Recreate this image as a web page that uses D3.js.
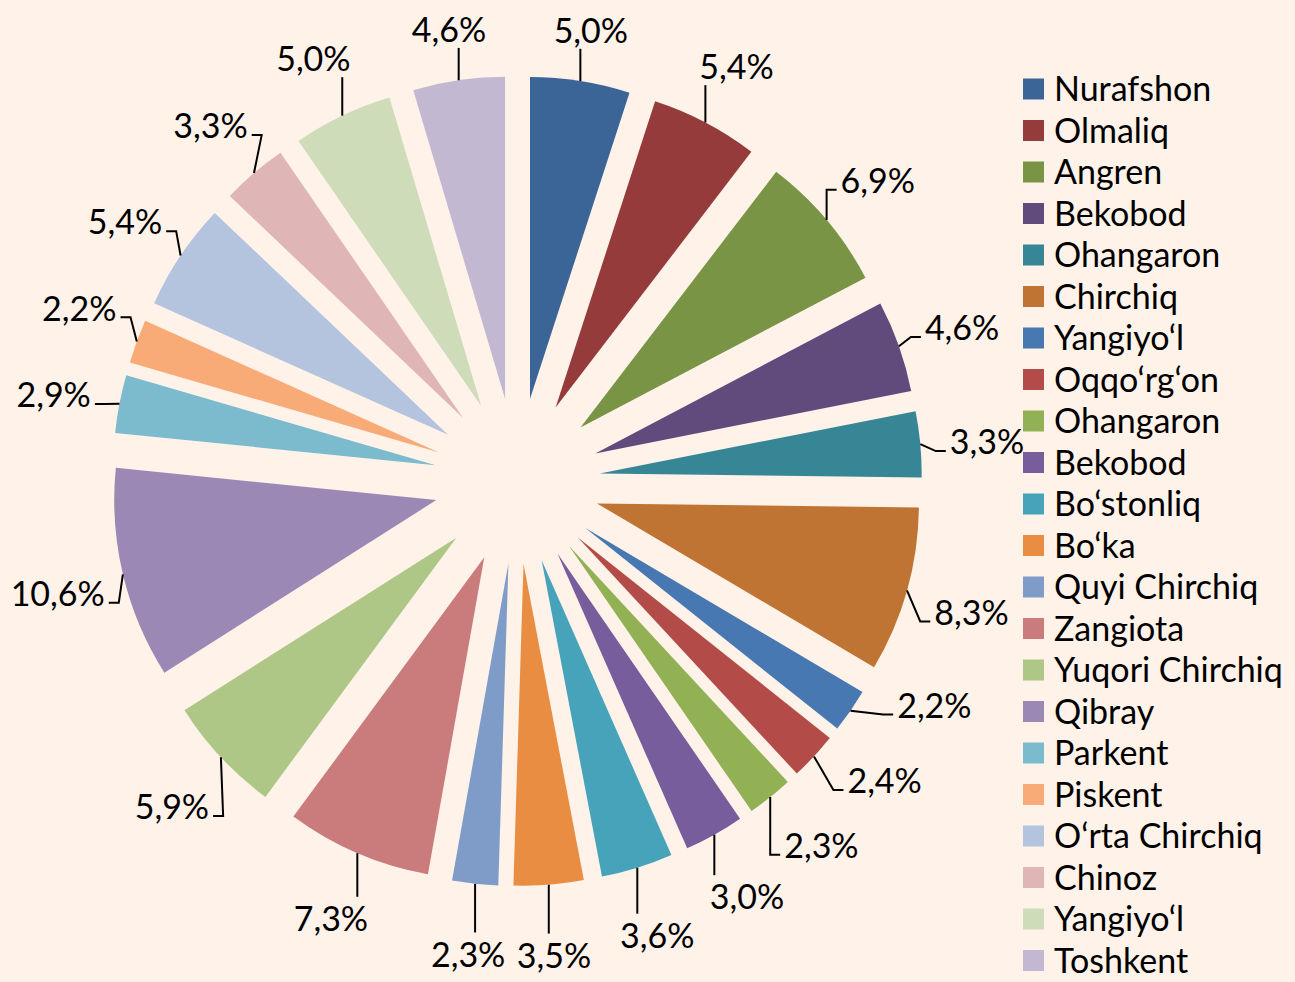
<!DOCTYPE html>
<html>
<head>
<meta charset="utf-8">
<script src="https://cdn.jsdelivr.net/npm/d3@7"></script>
<style>
  body { margin: 0; background: #FEF2E9; }
  text { font-family: Lato, "Noto Sans", sans-serif; fill: #000; }
</style>
</head>
<body>
<div id="chart"></div>
<script>
var names = ["Nurafshon", "Olmaliq", "Angren", "Bekobod", "Ohangaron", "Chirchiq",
    "Yangiyo\u2018l", "Oqqo\u2018rg\u2018on", "Ohangaron", "Bekobod", "Bo\u2018stonliq", "Bo\u2018ka",
    "Quyi Chirchiq", "Zangiota", "Yuqori Chirchiq", "Qibray", "Parkent", "Piskent",
    "O\u2018rta Chirchiq", "Chinoz", "Yangiyo\u2018l", "Toshkent"];
var shares = [5.0, 5.4, 6.9, 4.6, 3.3, 8.3, 2.2, 2.4, 2.3, 3.0, 3.6, 3.5,
    2.3, 7.3, 5.9, 10.6, 2.9, 2.2, 5.4, 3.3, 5.0, 4.6];
var colors = ["#3C6597", "#953B3C", "#799445", "#604B7C", "#378696", "#C07433",
    "#4878B2", "#B34B48", "#92B154", "#775D9C", "#46A3BA", "#E98D42",
    "#7F9BC7", "#CA7B7B", "#AEC686", "#9C88B4", "#7CBACE", "#F8AA77",
    "#B4C3DE", "#DFB5B5", "#CEDCBA", "#C3B8D1"];

var width = 1295;
var height = 982;
var cx = 517, cy = 481;
var radius = 322;
var explode = 83;
var labelRadius = 472;
var minSep = 11 * Math.PI / 180;

var fmt = d3.formatLocale({decimal: ",", thousands: " ", grouping: [3], currency: ["", ""]}).format(".1f");

var svg = d3.select("#chart").append("svg")
    .attr("width", width)
    .attr("height", height);

svg.append("rect")
    .attr("width", width)
    .attr("height", height)
    .style("fill", "#FEF2E9");

var pie = d3.pie().sort(null).value(function(d) { return d; });
var arcs = pie(shares);

var arc = d3.arc()
    .innerRadius(0)
    .outerRadius(radius);

var g = svg.append("g")
    .attr("transform", "translate(" + cx + "," + cy + ")");

function mid(d) { return (d.startAngle + d.endAngle) / 2; }
function polar(r, a) { return [r * Math.sin(a), -r * Math.cos(a)]; }

g.selectAll("path.slice")
    .data(arcs)
    .enter().append("path")
    .attr("class", "slice")
    .attr("d", arc)
    .style("fill", function(d, i) { return colors[i]; })
    .attr("transform", function(d) {
        var p = polar(explode, mid(d));
        return "translate(" + p[0] + "," + p[1] + ")";
    });

// spread crowded label angles apart (right half upwards, left half onwards)
var labelAngle = arcs.map(mid);
var right = [], left = [];
labelAngle.forEach(function(a, i) { (a < Math.PI ? right : left).push(i); });
for (var k = right.length - 2; k >= 0; k--) {
    labelAngle[right[k]] = Math.min(labelAngle[right[k]], labelAngle[right[k + 1]] - minSep);
}
for (var k = 1; k < left.length; k++) {
    labelAngle[left[k]] = Math.max(labelAngle[left[k]], labelAngle[left[k - 1]] + minSep);
}

// label centre; labels sitting right above the pie are pulled down a little
function labelPos(i) {
    var a = labelAngle[i];
    var p = polar(labelRadius, a);
    var dy = 4;
    if (Math.abs(Math.sin(a)) < 0.2 && Math.cos(a) > 0) dy += 12;
    return [p[0], p[1] + dy];
}

// data labels with leader lines
var labels = g.selectAll("text.lbl")
    .data(arcs)
    .enter().append("text")
    .attr("class", "lbl")
    .text(function(d) { return fmt(d.data) + "%"; })
    .style("font-size", "34px")
    .attr("text-anchor", "middle")
    .attr("dy", "0.36em")
    .attr("x", function(d, i) { return labelPos(i)[0]; })
    .attr("y", function(d, i) { return labelPos(i)[1]; });

labels.each(function(d, i) {
    var p0 = polar(radius + explode, mid(d));
    var t = labelPos(i);
    var ty = t[1];
    var w = this.getComputedTextLength();
    var x0 = t[0] - w / 2 - 4, x1 = t[0] + w / 2 + 4;
    var pts;
    if (p0[0] > x0 && p0[0] < x1) {
        var ey = p0[1] > ty ? ty + 18 : ty - 22;
        pts = [p0, [p0[0], ey]];
    } else {
        var ax = t[0] > p0[0] ? x0 : x1;
        var ay = ty + 9;
        var step = t[0] > p0[0] ? -10 : 10;
        pts = [p0, [ax + step, ay], [ax, ay]];
    }
    g.append("path")
        .attr("d", d3.line()(pts))
        .style("fill", "none")
        .style("stroke", "#000")
        .style("stroke-width", "2px");
});

// legend
var legendX = 1023, legendY = 89, legendStep = 41.5;

var legend = svg.selectAll("g.legend")
    .data(names)
    .enter().append("g")
    .attr("class", "legend")
    .attr("transform", function(d, i) { return "translate(" + legendX + "," + (legendY + i * legendStep) + ")"; });

legend.append("rect")
    .attr("x", 0)
    .attr("y", -10.5)
    .attr("width", 21)
    .attr("height", 21)
    .style("fill", function(d, i) { return colors[i]; });

legend.append("text")
    .attr("x", 31)
    .attr("dy", "0.36em")
    .style("font-size", "34px")
    .text(function(d) { return d; });
</script>
</body>
</html>
